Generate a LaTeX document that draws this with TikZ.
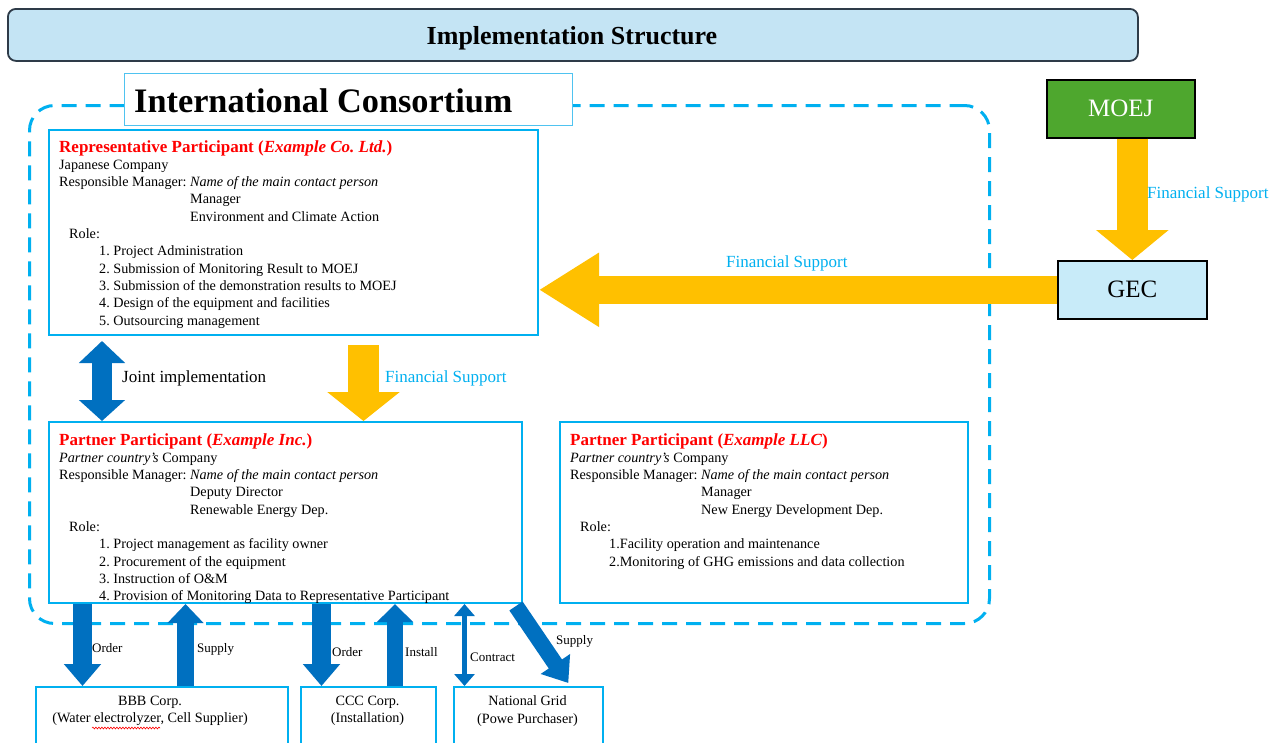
\documentclass[tikz,border=0pt]{standalone}
\usepackage{fontspec}
\setmainfont{Liberation Serif}
\usetikzlibrary{arrows.meta,decorations.pathmorphing}
\definecolor{cyanB}{HTML}{00B0F0}
\definecolor{icB}{HTML}{4FC3F0}
\definecolor{yel}{HTML}{FFC000}
\definecolor{blueA}{HTML}{0070C0}
\definecolor{titlefill}{HTML}{C4E4F4}
\definecolor{titledraw}{HTML}{2E3B48}
\definecolor{moejgreen}{HTML}{4EA72E}
\definecolor{gecfill}{HTML}{C8EBF9}
\tikzset{
  bx/.style={draw=cyanB, line width=2pt, inner sep=0pt, anchor=north west, fill=white},
  txt/.style={inner sep=0pt, anchor=north west, align=left, font=\fontsize{14.2}{17.3}\selectfont},
  lbl/.style={inner sep=0pt, anchor=west, font=\fontsize{17}{17}\selectfont},
  slbl/.style={inner sep=0pt, anchor=west, font=\fontsize{13}{13}\selectfont},
  flbl/.style={lbl, text=cyanB},
  frame/.style={draw=cyanB, line width=3pt, dash pattern=on 15pt off 9pt, rounded corners=25pt, inner sep=0pt, anchor=north west},
}
\newcommand\ttlf{\fontsize{17}{17}\selectfont\bfseries\color{red}}
\frenchspacing
\begin{document}
\frenchspacing
\begin{tikzpicture}[x=1pt,y=-1pt]
\useasboundingbox (0,0) rectangle (1272,742);
\clip (0,0) rectangle (1272,742);
\fill[white] (0,0) rectangle (1272,742);
% title
\node[draw=titledraw, fill=titlefill, line width=1.8pt, rounded corners=8pt, minimum width=1130pt, minimum height=52pt, inner sep=0pt, anchor=north west] (title) at (7,8) {};
\node[inner sep=0pt, anchor=base, font=\fontsize{26}{26}\selectfont\bfseries] (titletext) at (572,44) {Implementation Structure};
% consortium frame
\node[frame, minimum width=960pt, minimum height=518pt] (cons) at (28,104) {};
\node[draw=icB, line width=1pt, fill=white, minimum width=448pt, minimum height=52pt, inner sep=0pt, anchor=north west] (icbox) at (124,73) {};
\node[inner sep=0pt, anchor=west, font=\fontsize{34.3}{34}\selectfont\bfseries] (ictext) at (134,101) {International Consortium};
% boxes
\node[bx, minimum width=489pt, minimum height=205pt] (rep) at (48,129) {};
\node[bx, minimum width=473pt, minimum height=181pt] (inc) at (48,421) {};
\node[bx, minimum width=408pt, minimum height=181pt] (llc) at (559,421) {};
\node[draw=black, line width=1.6pt, fill=moejgreen, minimum width=148pt, minimum height=58pt, inner sep=0pt, anchor=north west, text=white, font=\fontsize{25}{25}\selectfont] (moej) at (1046,79) {MOEJ};
\node[draw=black, line width=1.6pt, fill=gecfill, minimum width=149pt, minimum height=58pt, inner sep=0pt, anchor=north west, font=\fontsize{25}{25}\selectfont] (gec) at (1057,260) {GEC};
\node[bx, line width=1.6pt, minimum width=252pt, minimum height=90pt] (bbb) at (35,686) {};
\node[bx, line width=1.6pt, minimum width=135pt, minimum height=90pt] (ccc) at (300,686) {};
\node[bx, line width=1.6pt, minimum width=149pt, minimum height=90pt] (grid) at (453,686) {};
% box texts
\node[txt] (reptext) at (59,140) {%
{\ttlf Representative Participant (\textit{Example Co. Ltd.})}\\
Japanese Company\\
Responsible Manager: \textit{Name of the main contact person}\\
\hspace*{131pt}Manager\\
\hspace*{131pt}Environment and Climate Action\\
\hspace*{10pt}Role:\\
\hspace*{40pt}1. Project Administration\\
\hspace*{40pt}2. Submission of Monitoring Result to MOEJ\\
\hspace*{40pt}3. Submission of the demonstration results to MOEJ\\
\hspace*{40pt}4. Design of the equipment and facilities\\
\hspace*{40pt}5. Outsourcing management};
\node[txt] (inctext) at (59,433) {%
{\ttlf Partner Participant (\textit{Example Inc.})}\\
\textit{Partner country's} Company\\
Responsible Manager: \textit{Name of the main contact person}\\
\hspace*{131pt}Deputy Director\\
\hspace*{131pt}Renewable Energy Dep.\\
\hspace*{10pt}Role:\\
\hspace*{40pt}1. Project management as facility owner\\
\hspace*{40pt}2. Procurement of the equipment\\
\hspace*{40pt}3. Instruction of O\&M\\
\hspace*{40pt}4. Provision of Monitoring Data to Representative Participant};
\node[txt] (llctext) at (570,433) {%
{\ttlf Partner Participant (\textit{Example LLC})}\\
\textit{Partner country's} Company\\
Responsible Manager: \textit{Name of the main contact person}\\
\hspace*{131pt}Manager\\
\hspace*{131pt}New Energy Development Dep.\\
\hspace*{10pt}Role:\\
\hspace*{39pt}1.Facility operation and maintenance\\
\hspace*{39pt}2.Monitoring of GHG emissions and data collection};
\node[txt, anchor=center, align=center] (bbbtext) at (150,711) {BBB Corp.\\(Water electrolyzer, Cell Supplier)};
\node[txt, anchor=center, align=center] (ccctext) at (367.5,711) {CCC Corp.\\(Installation)};
\node[txt, anchor=center, align=center] (gridtext) at (527.5,711) {National Grid\\(Powe Purchaser)};
\draw[red, line width=0.6pt, decorate, decoration={snake, amplitude=0.9pt, segment length=3pt}] (92,728) -- (160,728);
% yellow arrows
\draw[draw=yel, line width=31pt, -{Triangle[width=71pt,length=30pt]}] (moej.south -| gec.north) -- (gec.north);
\draw[draw=yel, line width=28pt, -{Triangle[width=70pt,length=60pt]}] (gec.west) -- (rep.east |- gec.west);
\coordinate (fsx) at (363.5,345);
\draw[draw=yel, line width=31pt, -{Triangle[width=71pt,length=29pt]}] (fsx) -- (fsx |- inc.north);
% blue arrows
\coordinate (jx) at (102,341);
\draw[draw=blueA, line width=20pt, {Triangle[width=45pt,length=22pt]}-{Triangle[width=45pt,length=21pt]}] (jx) -- (jx |- inc.north);
\coordinate (o1) at (82.5,650);
\coordinate (s1) at (185.5,650);
\coordinate (o2) at (321.5,650);
\coordinate (i2) at (395,650);
\coordinate (c3) at (464.5,650);
\draw[draw=blueA, line width=19pt, -{Triangle[width=36pt,length=22pt]}] (inc.south -| o1) -- (bbb.north -| o1);
\draw[draw=blueA, line width=17pt, -{Triangle[width=35pt,length=19pt]}] (bbb.north -| s1) -- (inc.south -| s1);
\draw[draw=blueA, line width=19pt, -{Triangle[width=36pt,length=22pt]}] (inc.south -| o2) -- (ccc.north -| o2);
\draw[draw=blueA, line width=16pt, -{Triangle[width=35pt,length=18pt]}] (ccc.north -| i2) -- (inc.south -| i2);
\draw[draw=blueA, line width=5pt, {Triangle[width=20pt,length=12pt]}-{Triangle[width=20pt,length=12pt]}] (inc.south -| c3) -- (grid.north -| c3);
\draw[draw=blueA, line width=16pt, -{Triangle[width=34pt,length=23pt]}] ([xshift=-7pt,yshift=-2pt]inc.south east) -- ([xshift=40pt,yshift=3pt]grid.north);
% labels
\node[lbl] (jlbl) at (122,378) {Joint implementation};
\node[flbl] (fs1) at (385,378) {Financial Support};
\node[flbl] (fs2) at (726,263) {Financial Support};
\node[flbl] (fs3) at (1147,194) {Financial Support};
\node[slbl] (lo1) at (92,648) {Order};
\node[slbl] (ls1) at (197,649) {Supply};
\node[slbl] (lo2) at (332,652) {Order};
\node[slbl] (li2) at (405,652) {Install};
\node[slbl] (lc3) at (470,657) {Contract};
\node[slbl] (ls3) at (556,641) {Supply};
\end{tikzpicture}
\end{document}
